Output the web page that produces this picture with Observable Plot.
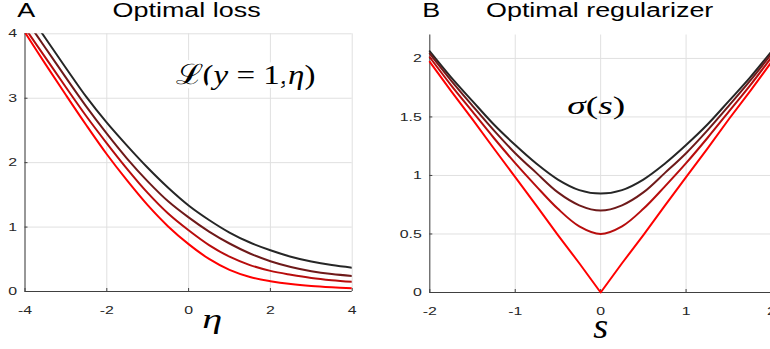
<!DOCTYPE html>
<html><head><meta charset="utf-8">
<script src="https://cdn.jsdelivr.net/npm/d3@7"></script>
<script src="https://cdn.jsdelivr.net/npm/@observablehq/plot@0.6"></script>
<style>
body{margin:0;background:#fff}
#wrap{position:relative;width:770px;height:349px;overflow:hidden;background:#fff}
#wrap > svg{position:absolute;top:0}
</style>
</head><body><div id="wrap"></div>
<script>
// ---------- data ----------
const seriesNames = ["black", "dark", "mid", "red"];

// Panel A: optimal loss L(y=1, eta)
const etaValues = [-4, -3.5, -3, -2.5, -2, -1.5, -1, -0.5, 0, 0.5, 1, 1.5, 2, 2.5, 3, 3.5, 4];
const lossBlack = [4.40, 3.93, 3.47, 3.02, 2.62, 2.26, 1.92, 1.61, 1.335, 1.11, 0.915, 0.76, 0.64, 0.54, 0.465, 0.41, 0.37];
const lossDark  = [4.24, 3.78, 3.32, 2.87, 2.45, 2.06, 1.71, 1.40, 1.15, 0.93, 0.745, 0.59, 0.47, 0.38, 0.315, 0.27, 0.24];
const lossMid   = [4.09, 3.63, 3.17, 2.72, 2.30, 1.90, 1.53, 1.21, 0.95, 0.72, 0.54, 0.41, 0.32, 0.26, 0.21, 0.175, 0.15];
const lossRed   = [4.02, 3.53, 3.05, 2.58, 2.13, 1.72, 1.34, 1.01, 0.735, 0.505, 0.335, 0.225, 0.16, 0.115, 0.085, 0.065, 0.05];
const etaDomain = [-4, 4];
const lossDomain = [0, 4];
const etaTicks = [-4, -2, 0, 2, 4];
const lossTicks = [0, 1, 2, 3, 4];

// Panel B: optimal regularizer sigma(s)
const sValues = [-2, -1.75, -1.5, -1.25, -1, -0.75, -0.5, -0.25, 0, 0.25, 0.5, 0.75, 1, 1.25, 1.5, 1.75, 2];
const regBlack = [2.06, 1.838, 1.635, 1.435, 1.26, 1.10, 0.965, 0.875, 0.845, 0.875, 0.965, 1.10, 1.26, 1.435, 1.635, 1.838, 2.06];
const regDark  = [2.04, 1.81, 1.595, 1.385, 1.19, 1.02, 0.855, 0.745, 0.70, 0.745, 0.855, 1.02, 1.19, 1.385, 1.595, 1.81, 2.04];
const regMid   = [2.01, 1.77, 1.545, 1.32, 1.105, 0.905, 0.715, 0.565, 0.50, 0.565, 0.715, 0.905, 1.105, 1.32, 1.545, 1.77, 2.01];
const regRed   = [1.97, 1.72, 1.48, 1.23, 0.985, 0.74, 0.49, 0.25, 0, 0.25, 0.49, 0.74, 0.985, 1.23, 1.48, 1.72, 1.97];
const sDomain = [-2, 2];
const regDomain = [0, 2.2];
const sTicks = [-2, -1, 0, 1, 2];
const regTicks = [0, 0.5, 1, 1.5, 2];

// texts
const titleA = "Optimal loss", letterA = "A", xLabelA = "η", annotA = "ℒ(y = 1,η)";
const titleB = "Optimal regularizer", letterB = "B", xLabelB = "s", annotB = "σ(s)";

// ---------- build ----------
const colors = ["#262626", "#6e1a1a", "#b70d0d", "#ff0000"];
const axisColor = "#404040";
const gridColor = "#e0e0e0";
const sans = "'Liberation Sans', Arial, Helvetica, sans-serif";
const serif = "'Liberation Serif', 'DejaVu Serif', serif";

function longData(xs, arrays) {
  return seriesNames.flatMap((name, i) => xs.map((x, j) => ({x, y: arrays[i][j], series: name})));
}
const lossData = longData(etaValues, [lossBlack, lossDark, lossMid, lossRed]);
const regData = longData(sValues, [regBlack, regDark, regMid, regRed]);

const fmt = d => `${d}`;

function axes(xTicks, yTicks) {
  return [
    Plot.axisX(xTicks, {tickSize: -3, tickPadding: 17, tickFormat: fmt, label: null, stroke: axisColor, fill: "#262626", fontSize: 11.5}),
    Plot.axisY(yTicks, {tickSize: -3, tickPadding: 11, tickFormat: fmt, label: null, stroke: axisColor, fill: "#262626", fontSize: 11.5})
  ];
}

const svgA = Plot.plot({
  width: 385, height: 349,
  marginLeft: 24.5, marginRight: 33.3, marginTop: 33.3, marginBottom: 58,
  x: {domain: etaDomain},
  y: {domain: lossDomain},
  color: {domain: seriesNames, range: colors},
  style: {fontFamily: sans, fontSize: "11px", color: "#262626", background: "transparent", overflow: "visible"},
  marks: [
    Plot.gridX(etaTicks, {stroke: gridColor, strokeOpacity: 1}),
    Plot.gridY(lossTicks, {stroke: gridColor, strokeOpacity: 1}),
    Plot.ruleX([etaDomain[0]], {stroke: axisColor}),
    Plot.ruleY([lossDomain[0]], {stroke: axisColor}),
    ...axes(etaTicks, lossTicks),
    Plot.line(lossData, {x: "x", y: "y", z: "series", stroke: "series", strokeWidth: 2, curve: "catmull-rom", clip: true}),
    Plot.text([annotA], {text: d => d, frameAnchor: "top-left", dx: 150.5, dy: 50, textAnchor: "start", lineAnchor: "bottom",
      fontFamily: serif, fontSize: 28, fill: "#000", stroke: "white", strokeWidth: 8, paintOrder: "stroke"}),
    Plot.text([titleA], {text: d => d, frameAnchor: "top", dx: -2, dy: -16.6, lineAnchor: "bottom", fontSize: 19.5, fill: "#000"}),
    Plot.text([letterA], {text: d => d, frameAnchor: "top-left", dx: -7.8, dy: -16.6, textAnchor: "start", lineAnchor: "bottom", fontSize: 19.5, fill: "#000"}),
    Plot.text([xLabelA], {text: d => d, frameAnchor: "bottom", dx: 23.6, dy: 36, lineAnchor: "bottom", fontFamily: serif, fontStyle: "italic", fontSize: 27, fill: "#000"})
  ]
});

const svgB = Plot.plot({
  width: 386, height: 349,
  marginLeft: 44.3, marginRight: 0, marginTop: 34.5, marginBottom: 57,
  x: {domain: sDomain},
  y: {domain: regDomain},
  color: {domain: seriesNames, range: colors},
  style: {fontFamily: sans, fontSize: "11px", color: "#262626", background: "transparent", overflow: "visible"},
  marks: [
    Plot.gridX(sTicks, {stroke: gridColor, strokeOpacity: 1}),
    Plot.gridY(regTicks, {stroke: gridColor, strokeOpacity: 1}),
    Plot.ruleX([sDomain[0]], {stroke: axisColor}),
    Plot.ruleY([regDomain[0]], {stroke: axisColor}),
    ...axes(sTicks, regTicks),
    Plot.line(regData.filter(d => d.series !== "red"), {x: "x", y: "y", z: "series", stroke: "series", strokeWidth: 2, curve: "catmull-rom"}),
    Plot.line(regData.filter(d => d.series === "red"), {x: "x", y: "y", z: "series", stroke: "series", strokeWidth: 2, curve: "linear"}),
    Plot.text([annotB], {text: d => d, frameAnchor: "top-left", dx: 137.4, dy: 78.8, textAnchor: "start", lineAnchor: "bottom",
      fontFamily: serif, fontSize: 25, fill: "#000"}),
    Plot.text([titleB], {text: d => d, frameAnchor: "top", dx: -1, dy: -17.8, lineAnchor: "bottom", fontSize: 19.5, fill: "#000"}),
    Plot.text([letterB], {text: d => d, frameAnchor: "top-left", dx: -7.6, dy: -17.8, textAnchor: "start", lineAnchor: "bottom", fontSize: 19.5, fill: "#000"}),
    Plot.text([xLabelB], {text: d => d, frameAnchor: "bottom", dx: 0, dy: 45, lineAnchor: "bottom", fontFamily: serif, fontStyle: "italic", fontSize: 36, fill: "#000"})
  ]
});

const wrap = document.getElementById("wrap");
svgA.style.left = "0px";
svgB.style.left = "385px";
wrap.appendChild(svgA);
wrap.appendChild(svgB);

// math-style formatting: upright symbols, italic variables
const SVGNS = "http://www.w3.org/2000/svg";
function mathify(svg, content, parts) {
  for (const t of svg.querySelectorAll("text")) {
    if (t.textContent === content) {
      t.textContent = "";
      for (const [s, style] of parts) {
        const ts = document.createElementNS(SVGNS, "tspan");
        ts.textContent = s;
        ts.setAttribute("font-style", style);
        t.appendChild(ts);
      }
    }
  }
}
mathify(svgA, annotA, [["ℒ", "normal"], ["(", "normal"], ["y", "italic"], [" = 1,", "normal"], ["η", "italic"], [")", "normal"]]);
mathify(svgB, annotB, [["σ", "italic"], ["(", "normal"], ["s", "italic"], [")", "normal"]]);

// The reference figure is horizontally stretched; stretch text glyphs to match.
const stretch = 1.38;
const fixedWidths = {[annotA]: 140, [annotB]: 58, [xLabelA]: 20, [xLabelB]: 15};
for (const svg of [svgA, svgB]) {
  for (const t of svg.querySelectorAll("text")) {
    const w = t.getComputedTextLength();
    if (!w) continue;
    const target = fixedWidths[t.textContent];
    t.setAttribute("textLength", (target !== undefined ? target : w * stretch).toFixed(2));
    t.setAttribute("lengthAdjust", "spacingAndGlyphs");
  }
}
</script>
</body></html>
